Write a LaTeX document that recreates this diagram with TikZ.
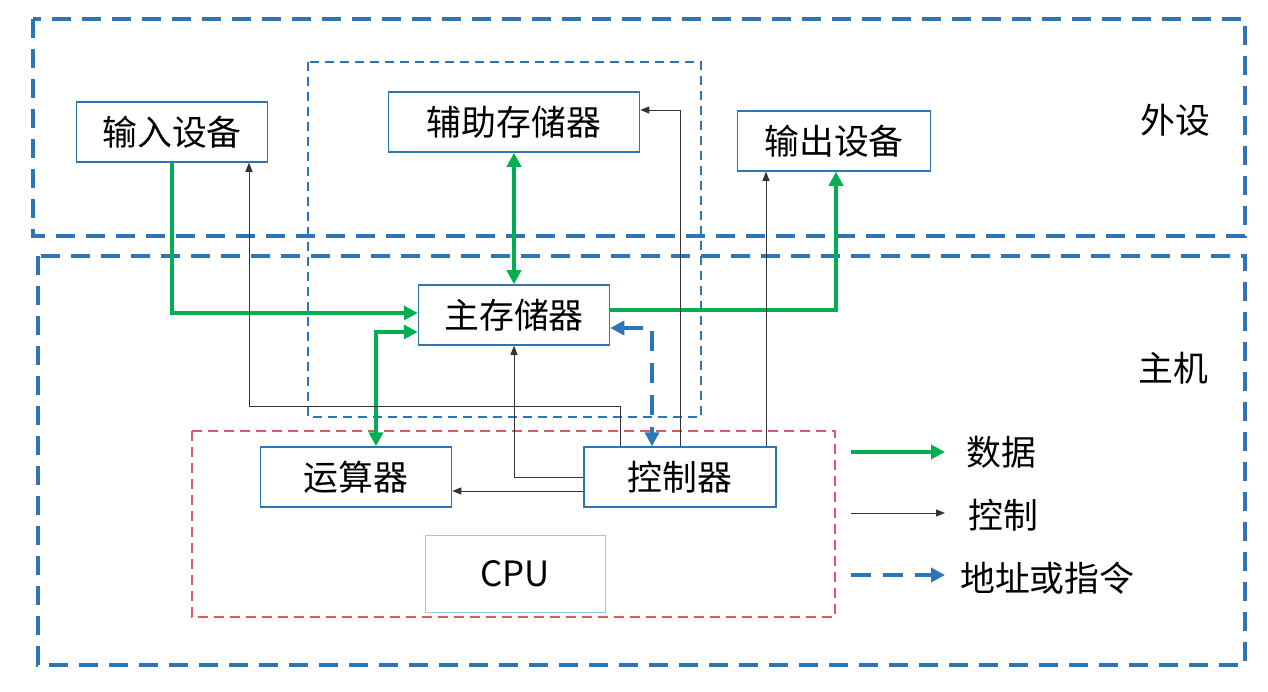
\documentclass[tikz,border=0pt]{standalone}
\usepackage{fontspec}
\newfontfamily\zhfont{Noto Sans CJK SC}
\usetikzlibrary{arrows.meta, calc}
\definecolor{hostblue}{HTML}{2E75B6}
\definecolor{datagreen}{HTML}{00B050}
\definecolor{cpured}{HTML}{E0595E}
\definecolor{cpublue}{HTML}{9DC3E6}

\begin{document}
\begin{tikzpicture}[x=1bp, y=-1bp,
    every node/.style={font=\zhfont\fontsize{35}{40}\selectfont},
    unit/.style={draw=hostblue, line width=1.5bp, minimum width=191bp, minimum height=60bp, inner sep=0pt},
    region/.style={draw=hostblue, line width=3.5bp, dash pattern=on 19bp off 11bp},
    memregion/.style={draw=hostblue, line width=1.8bp, dash pattern=on 9bp off 6bp},
    cpuregion/.style={draw=cpured, line width=1.8bp, dash pattern=on 10bp off 6bp},
    data/.style={draw=datagreen, line width=4bp, >={Triangle[length=14bp,width=14bp]}, ->},
    ctrl/.style={draw=black!80, line width=0.9bp, >={Triangle[length=9bp,width=7bp]}, ->},
    addr/.style={draw=hostblue, line width=4bp, dash pattern=on 20bp off 12bp, >={Triangle[length=14bp,width=14bp]}, ->},
    tag/.style={draw=none, inner sep=0pt},
  ]
  \useasboundingbox (0,0) rectangle (1268,692);
  \draw[region] (33,19) rectangle (1245,236);
  \draw[region] (38,256) rectangle (1245,665);
  \draw[memregion] (308,62) rectangle (701,417);
  \draw[cpuregion] (192,431) rectangle (835,617);

  \node[unit] (inp) at (172,132) {输入设备};
  \node[unit, minimum width=251bp] (aux) at (514,122) {辅助存储器};
  \node[unit, minimum width=193bp] (out) at (834,141) {输出设备};
  \node[unit] (main) at (514,315) {主存储器};
  \node[unit] (alu) at (356,477) {运算器};
  \node[unit, minimum width=192bp] (ctl) at (680,477) {控制器};
  \node[draw=cpublue, line width=1bp, minimum width=180bp, minimum height=77bp] (cpu) at (515,574) {CPU};

  \node[tag] (periph) at (1175,120) {外设};
  \node[tag] (host) at (1173,368) {主机};

  \draw[data] (inp.south) |- ([yshift=2bp]main.west);
  \draw[data, <->] (aux.south) -- (main.north);
  \draw[data] ([yshift=5bp]main.east) -| ([xshift=2bp]out.south);
  \draw[data, <->] ([yshift=-17bp]main.west) -| ([xshift=20bp]alu.north);
  \draw[addr, <->] ([yshift=-13bp]main.east) -| ([xshift=-28bp]ctl.north);

  \draw[ctrl] (ctl.west) -| (main.south);
  \draw[ctrl] ([yshift=-14bp]ctl.west) -- ([yshift=-14bp]alu.east);
  \draw[ctrl] ([xshift=-60bp]ctl.north) -- ++(0,40bp) -| ([xshift=77bp]inp.south);
  \draw[ctrl] (ctl.north) |- ([yshift=12bp]aux.east);
  \draw[ctrl] ([xshift=86bp]ctl.north) -- ([xshift=86bp]ctl.north |- out.south);

  \node[tag, anchor=west] (lgdata) at (966,452) {数据};
  \node[tag, anchor=west] (lgctrl) at (968,515) {控制};
  \node[tag, anchor=west] (lgaddr) at (960,578) {地址或指令};
  \coordinate (lgdatafrom) at (851,452);
  \coordinate (lgdatato) at (945,452);
  \coordinate (lgctrlfrom) at (851,513);
  \coordinate (lgctrlto) at (945,513);
  \coordinate (lgaddrfrom) at (851,575);
  \coordinate (lgaddrto) at (945,575);
  \draw[data] (lgdatafrom) -- (lgdatato);
  \draw[ctrl] (lgctrlfrom) -- (lgctrlto);
  \draw[addr] (lgaddrfrom) -- (lgaddrto);
\end{tikzpicture}
\end{document}
